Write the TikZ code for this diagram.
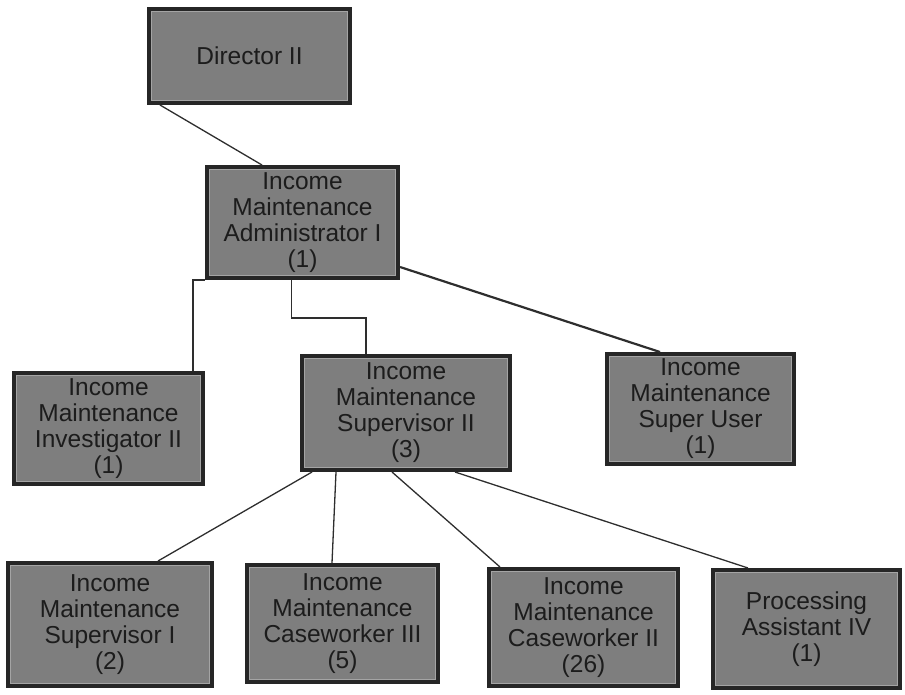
\documentclass[tikz,border=0pt]{standalone}
\usepackage{fontspec}
\setmainfont{Liberation Sans}
\usetikzlibrary{calc}
\definecolor{boxfill}{HTML}{7E7E7E}
\definecolor{boxedge}{HTML}{262626}
\definecolor{boxbevel}{HTML}{A4A4A4}
\definecolor{inkline}{HTML}{2E2E2E}
\definecolor{inktext}{HTML}{1C1C1C}
\begin{document}
\begin{tikzpicture}[x=1pt,y=-1pt,
  post/.style={draw=boxedge, fill=boxfill, line width=4pt, rectangle,
    align=center, text=inktext, inner sep=0pt,
    font=\fontsize{24.5}{26}\selectfont,
    path picture={\draw[line width=0.9pt, draw=boxbevel]
      ([shift={(2.6pt,-2.6pt)}]path picture bounding box.north west) rectangle
      ([shift={(-2.6pt,2.6pt)}]path picture bounding box.south east);}},
  link/.style={draw=inkline, line width=1.3pt},
  boldlink/.style={draw=inkline, line width=2.2pt}]
\useasboundingbox (0,0) rectangle (905,694);
% position boxes: centre, width and height in px
\node[post, minimum width=201, minimum height=94] (dir) at (249.5,56) {Director II};
\node[post, minimum width=191, minimum height=111] (adm) at (302.5,222.5)
  {Income\\Maintenance\\Administrator I\\(1)};
\node[post, minimum width=189, minimum height=111] (inv) at (108.5,428.5)
  {Income\\Maintenance\\Investigator II\\(1)};
\node[post, minimum width=208, minimum height=114] (sup2) at (406,413)
  {Income\\Maintenance\\Supervisor II\\(3)};
\node[post, minimum width=187, minimum height=110] (usr) at (700.5,409)
  {Income\\Maintenance\\Super User\\(1)};
\node[post, minimum width=204, minimum height=123] (sup1) at (110,624.5)
  {Income\\Maintenance\\Supervisor I\\(2)};
\node[post, minimum width=191, minimum height=117] (cw3) at (342.5,623.5)
  {Income\\Maintenance\\Caseworker III\\(5)};
\node[post, minimum width=189, minimum height=117] (cw2) at (583.5,627.5)
  {Income\\Maintenance\\Caseworker II\\(26)};
\node[post, minimum width=187, minimum height=118] (proc) at (806.5,629)
  {Processing\\Assistant IV\\(1)};
% reporting lines
\draw[link] ($(dir.south west)+(13,0)$) -- ($(adm.north west)+(57,0)$);
\draw[link] ($(inv.north east)+(-12,0)$) |- (adm.south west);
\draw[link] ($(adm.south)+(-11,0)$) -- ++(0,38) -| ($(sup2.north)+(-40,0)$);
\draw[boldlink] ($(adm.south east)+(0,-13)$) -- ($(usr.north west)+(55,0)$);
\draw[link] ($(sup2.south west)+(12,0)$) -- ($(sup1.north west)+(152,0)$);
\draw[link] ($(sup2.south west)+(36,0)$) -- ($(cw3.north west)+(87,0)$);
\draw[link] ($(sup2.south west)+(92,0)$) -- ($(cw2.north west)+(13,0)$);
\draw[link] ($(sup2.south west)+(155,0)$) -- ($(proc.north west)+(37,0)$);
\end{tikzpicture}
\end{document}
